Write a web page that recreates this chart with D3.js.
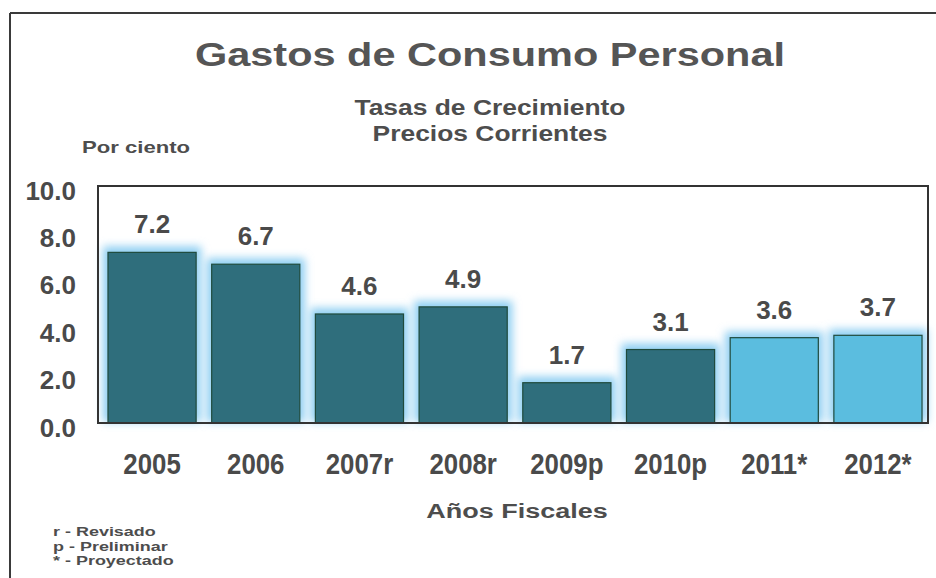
<!DOCTYPE html>
<html><head><meta charset="utf-8">
<script src="https://cdn.jsdelivr.net/npm/d3@7"></script>
<style>
html,body{margin:0;padding:0;background:#fff;}
svg{display:block;}
text{font-family:"Liberation Sans",Arial,sans-serif;font-weight:bold;fill:#4d4d4d;}
</style></head>
<body>
<script>
const categories = ["2005","2006","2007r","2008r","2009p","2010p","2011*","2012*"];
const values = [7.2, 6.7, 4.6, 4.9, 1.7, 3.1, 3.6, 3.7];
const projected = [false,false,false,false,false,false,true,true];
const yTicks = [0,2,4,6,8,10];
const notes = ["r - Revisado","p - Preliminar","* - Proyectado"];

const W = 936, H = 578;
const svg = d3.select("body").append("svg").attr("width", W).attr("height", H);

// stretch text horizontally by factor k (wide / narrow lettering of the original)
function stretch(sel, k){
  sel.each(function(){
    const n = this.getComputedTextLength();
    d3.select(this).attr("textLength", n*k).attr("lengthAdjust","spacingAndGlyphs");
  });
}

const defs = svg.append("defs");
const f = defs.append("filter").attr("id","glow").attr("x","-30%").attr("y","-30%").attr("width","160%").attr("height","160%");
f.append("feGaussianBlur").attr("stdDeviation", 4);

// outer frame
svg.append("line").attr("x1",10).attr("y1",13).attr("x2",936).attr("y2",13).attr("stroke","#3a3a3a").attr("stroke-width",2);
svg.append("line").attr("x1",10).attr("y1",13).attr("x2",10).attr("y2",578).attr("stroke","#3a3a3a").attr("stroke-width",2);

// titles
svg.append("text").attr("x",490).attr("y",66).attr("text-anchor","middle")
  .style("font-size","34px").style("fill","#555")
  .text("Gastos de Consumo Personal").call(stretch, 1.22);
svg.append("text").attr("x",490).attr("y",115).attr("text-anchor","middle")
  .style("font-size","22px").text("Tasas de Crecimiento").call(stretch, 1.2);
svg.append("text").attr("x",490).attr("y",141).attr("text-anchor","middle")
  .style("font-size","22px").text("Precios Corrientes").call(stretch, 1.2);
svg.append("text").attr("x",82).attr("y",153)
  .style("font-size","17px").text("Por ciento").call(stretch, 1.3);

const pLeft = 98, pRight = 928, pTop = 186, pBottom = 423;
const x = d3.scaleBand().domain(categories).range([pLeft+2, pRight+2]).paddingInner(0.15).paddingOuter(0.077);
const y = d3.scaleLinear().domain([0,10]).range([pBottom, pTop]);

// y axis labels
const yAxis = d3.axisLeft(y).tickValues(yTicks).tickFormat(d3.format(".1f")).tickSize(0).tickPadding(0);
const gy = svg.append("g").attr("transform",`translate(${pLeft-22},0)`).call(yAxis);
gy.select(".domain").remove();
gy.selectAll("text").style("font-size","26px").attr("dy","0.5em").style("fill","#4a4a4a")
  .style("font-family","'Liberation Sans',Arial,sans-serif");

const data = categories.map((c,i)=>({c, v:values[i], p:projected[i]}));

// glow
svg.append("g").selectAll("rect").data(data).join("rect")
  .attr("x",d=>x(d.c)-5).attr("y",d=>y(d.v)-6)
  .attr("width",x.bandwidth()+10).attr("height",d=>pBottom-y(d.v)+5)
  .attr("fill","#8fcff2").attr("filter","url(#glow)");

// bars
svg.append("g").selectAll("rect").data(data).join("rect")
  .attr("x",d=>x(d.c)).attr("y",d=>y(d.v))
  .attr("width",x.bandwidth()).attr("height",d=>pBottom-y(d.v))
  .attr("fill",d=>d.p ? "#5bbddf" : "#2f6e7c")
  .attr("stroke","#1f4a3c").attr("stroke-width",1.2);

// plot frame
svg.append("rect").attr("x",pLeft).attr("y",pTop).attr("width",pRight-pLeft).attr("height",pBottom-pTop)
  .attr("fill","none").attr("stroke","#333").attr("stroke-width",2);

// value labels
svg.append("g").selectAll("text").data(data).join("text")
  .attr("x",d=>x(d.c)+x.bandwidth()/2).attr("y",d=>y(d.v)-19)
  .attr("text-anchor","middle").style("font-size","26px").style("fill","#4a4a4a")
  .text(d=>d.v.toFixed(1));

// x axis labels
const xAxis = d3.axisBottom(x).tickSize(0).tickPadding(0);
const gx = svg.append("g").attr("transform",`translate(0,${pBottom})`).call(xAxis);
gx.select(".domain").remove();
gx.selectAll("text").attr("y",51).attr("dy",0)
  .style("font-size","30px").style("fill","#4a4a4a")
  .style("font-family","'Liberation Sans',Arial,sans-serif")
  .call(stretch, 0.86);

svg.append("text").attr("x",517).attr("y",518).attr("text-anchor","middle")
  .style("font-size","20px").text("Años Fiscales").call(stretch, 1.35);

svg.append("g").selectAll("text").data(notes).join("text")
  .attr("x",53).attr("y",(d,i)=>536+i*14.5)
  .style("font-size","13.5px").text(d=>d).call(stretch, 1.33);
</script>
</body></html>
